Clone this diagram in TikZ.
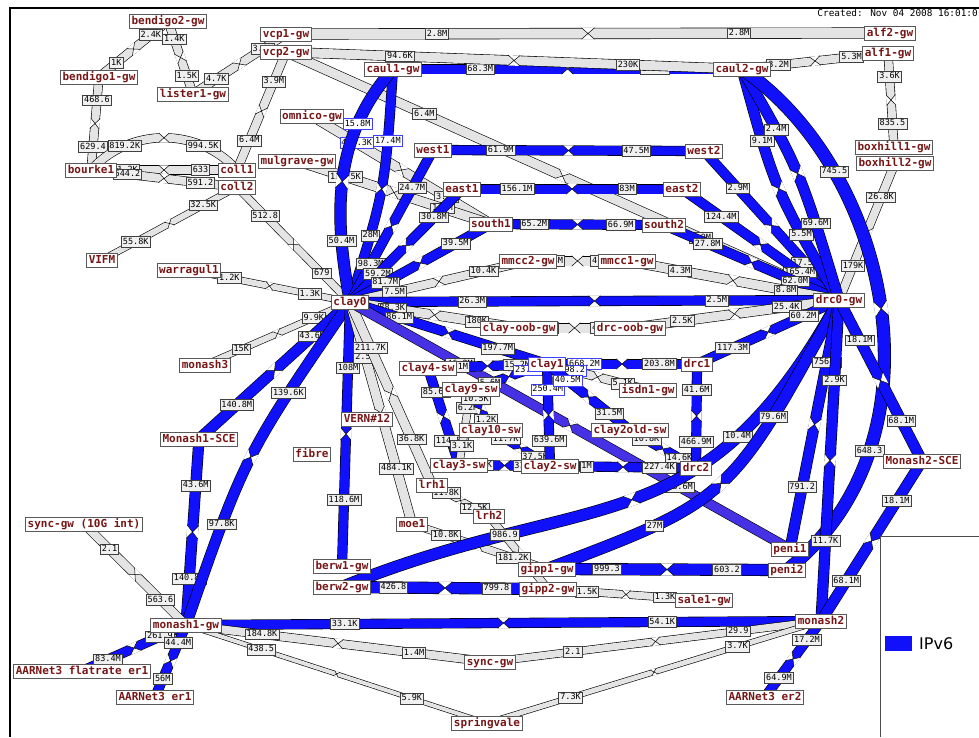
\documentclass[tikz,border=0pt]{standalone}
\usepackage{fontspec}
\newfontfamily\monof{DejaVu Sans Mono}
\newfontfamily\sansf{DejaVu Sans}
\pgfdeclarelayer{bg}
\pgfsetlayers{bg,main}
\definecolor{lg}{RGB}{228,228,228}
\definecolor{lgl}{RGB}{240,240,240}
\definecolor{v6}{RGB}{16,16,250}
\definecolor{v6p}{RGB}{70,50,228}
\definecolor{nodered}{RGB}{118,22,22}
\tikzset{
  nd/.style={fill=white, draw=black!65, line width=0.8pt, inner xsep=2pt, inner ysep=1.5pt,
    text height=8.5pt, text depth=2.5pt, text=nodered, font=\monof\bfseries\fontsize{11}{12}\selectfont},
  bw/.style={fill=lgl, draw=black!75, line width=0.6pt, inner xsep=1.5pt, inner ysep=1.5pt,
    text height=6.3pt, text depth=1.6pt, font=\monof\fontsize{8.5}{9}\selectfont},
  bwc/.style={bw, fill=white, draw=blue!75}
}
% link: #1 colour, #2 width, #3 from, #4 path op, #5 to, #6 style1, #7 label1, #8 style2, #9 label2
\newcommand\wl[9]{%
  \draw[line width=#2+1.2, black] (#3.center) #4 (#5.center);
  \draw[line width=#2, #1] (#3.center) #4 (#5.center)
     node[pos=.5, sloped, inner sep=0pt, outer sep=0pt, minimum width=1.3*#2, minimum height=#2+1.4] (pn) {};
  \fill[white] (pn.north west) -- (pn.center) -- (pn.north east) -- cycle;
  \fill[white] (pn.south west) -- (pn.center) -- (pn.south east) -- cycle;
  \draw[line width=0.5pt] (pn.north west) -- (pn.center) -- (pn.north east)
                          (pn.south west) -- (pn.center) -- (pn.south east);
  \path (#3.center) #4 (#5.center) node[#6, pos=.25] {#7} node[#8, pos=.75] {#9};
}
\begin{document}
\begin{tikzpicture}[x=1pt, y=-1pt]
\useasboundingbox (0,0) rectangle (979,737);
% ---------- nodes ----------
\node[nd] (bendigo2) at (168,21) {bendigo2-gw};
\node[nd] (bendigo1) at (99,77) {bendigo1-gw};
\node[nd] (lister1) at (193,94) {lister1-gw};
\node[nd] (bourke1) at (91,170) {bourke1};
\node[nd] (coll1) at (237,170) {coll1};
\node[nd] (coll2) at (237,187) {coll2};
\node[nd] (VIFM) at (102,260) {VIFM};
\node[nd] (warragul1) at (189,270) {warragul1};
\node[nd] (monash3) at (205,365) {monash3};
\node[nd] (monash1sce) at (199,439) {Monash1-SCE};
\node[nd] (fibre) at (312,454) {fibre};
\node[nd] (syncint) at (84,524) {sync-gw (10G int)};
\node[nd] (monash1) at (186,625) {monash1-gw};
\node[nd] (aarflat) at (82,671) {AARNet3 flatrate er1};
\node[nd] (aarer1) at (155,697) {AARNet3 er1};
\node[nd] (springvale) at (487,723) {springvale};
\node[nd] (syncgw) at (490,662) {sync-gw};
\node[nd] (berw1) at (342,566) {berw1-gw};
\node[nd] (berw2) at (342,587) {berw2-gw};
\node[nd] (moe1) at (412,524) {moe1};
\node[nd] (lrh2) at (489,516) {lrh2};
\node[nd] (lrh1) at (432,485) {lrh1};
\node[nd] (vern) at (367,419) {VERN\#12};
\node[nd] (clay0) at (350,302) {clay0};
\node[nd] (clay4) at (428,368) {clay4-sw};
\node[nd] (clay9) at (471,389) {clay9-sw};
\node[nd] (clay10) at (491,430) {clay10-sw};
\node[nd] (clay3) at (459,465) {clay3-sw};
\node[nd] (clay2) at (550,466) {clay2-sw};
\node[nd] (clay2old) at (630,430) {clay2old-sw};
\node[nd] (isdn1) at (648,390) {isdn1-gw};
\node[nd] (drc1) at (697,364) {drc1};
\node[nd] (drc2) at (696,468) {drc2};
\node[nd] (clayoob) at (519,328) {clay-oob-gw};
\node[nd] (drcoob) at (630,328) {drc-oob-gw};
\node[nd] (mmcc2) at (528,261) {mmcc2-gw};
\node[nd] (mmcc1) at (627,261) {mmcc1-gw};
\node[nd] (drc0) at (839,300) {drc0-gw};
\node[nd] (monash2sce) at (922,461) {Monash2-SCE};
\node[nd] (peni1) at (790,549) {peni1};
\node[nd] (peni2) at (787,570) {peni2};
\node[nd] (monash2) at (821,621) {monash2};
\node[nd] (aarer2) at (765,697) {AARNet3 er2};
\node[nd] (gipp1) at (547,569) {gipp1-gw};
\node[nd] (gipp2) at (548,589) {gipp2-gw};
\node[nd] (sale1) at (704,600) {sale1-gw};
\node[nd] (boxhill1) at (894,147) {boxhill1-gw};
\node[nd] (boxhill2) at (895,163) {boxhill2-gw};
\node[nd] (alf2) at (890,33) {alf2-gw};
\node[nd] (alf1) at (888,53) {alf1-gw};
\node[nd] (caul2) at (742,69) {caul2-gw};
\node[nd] (caul1) at (393,69) {caul1-gw};
\node[nd] (vcp1) at (286,34) {vcp1-gw};
\node[nd] (vcp2) at (286,52) {vcp2-gw};
\node[nd] (omnico) at (312,116) {omnico-gw};
\node[nd] (mulgrave) at (297,161) {mulgrave-gw};
\node[nd] (west1) at (433,150) {west1};
\node[nd] (east1) at (462,189) {east1};
\node[nd] (south1) at (491,224) {south1};
\node[nd] (west2) at (704,151) {west2};
\node[nd] (east2) at (682,189) {east2};
\node[nd] (south2) at (664,225) {south2};
\node[nd, draw=blue!75] (clay1) at (547,364) {clay1};
% ---------- links ----------
\begin{pgfonlayer}{bg}
\fill[white] (0,0) rectangle (979,737);
\wl{lg}{8}{bendigo2}{--}{bendigo1}{bw}{2.4K}{bw}{1K}
\wl{lg}{8}{bendigo2}{--}{lister1}{bw}{1.4K}{bw}{1.5K}
\wl{lg}{8}{bendigo1}{--}{bourke1}{bw}{468.6}{bw}{629.4}
\wl{lg}{8}{bourke1}{.. controls (130,127) and (198,127) ..}{coll1}{bw}{819.2K}{bw}{994.5K}
\wl{lg}{8}{bourke1}{--}{coll1}{bw}{1.2K}{bw}{633}
\wl{lg}{8}{bourke1}{--}{coll2}{bw}{644.2}{bw}{591.2}
\wl{lg}{8}{lister1}{--}{vcp1}{bw}{4.7K}{bw}{3.1K}
\wl{lg}{8}{coll1}{--}{vcp2}{bw}{6.4M}{bw}{3.9M}
\wl{lg}{7}{coll2}{--}{clay0}{bw}{512.8}{bw}{679}
\wl{lg}{6}{coll2}{--}{VIFM}{bw}{32.5K}{bw}{55.8K}
\wl{lg}{10}{vcp1}{--}{alf2}{bw}{2.8M}{bw}{2.8M}
\wl{v6}{9}{caul1}{--}{caul2}{bw}{68.3M}{bw}{27.3M}
\wl{lg}{9}{vcp2}{--}{caul2}{bw}{94.6K}{bw}{230K}
\wl{lg}{8}{caul2}{--}{alf1}{bw}{3.2M}{bw}{5.3M}
\wl{lg}{8}{alf1}{--}{boxhill1}{bw}{3.6K}{bw}{835.5}
\wl{lg}{8}{boxhill2}{--}{drc0}{bw}{26.8K}{bw}{179K}
\wl{lg}{9}{vcp2}{--}{drc0}{bw}{6.4M}{bw}{1.9M}
\wl{lg}{9}{omnico}{--}{south1}{bwc}{439.3K}{bw}{3.6M}
\wl{lg}{9}{mulgrave}{--}{south1}{bw}{133.5K}{bw}{1.7M}
\wl{v6}{9}{clay0}{.. controls (385,190) ..}{caul1}{bw}{28M}{bwc}{17.4M}
\wl{v6}{11}{clay0}{.. controls (335,220) and (330,140) ..}{caul1}{bw}{50.4M}{bwc}{15.8M}
\wl{v6}{9}{clay0}{--}{west1}{bw}{98.3M}{bw}{24.7M}
\wl{v6}{9}{clay0}{--}{east1}{bw}{59.2M}{bw}{30.8M}
\wl{v6}{9}{clay0}{--}{south1}{bw}{81.7M}{bw}{39.5M}
\wl{v6}{9}{west1}{--}{west2}{bw}{61.9M}{bw}{47.5M}
\wl{v6}{9}{east1}{--}{east2}{bw}{156.1M}{bw}{83M}
\wl{v6}{9}{south1}{--}{south2}{bw}{65.2M}{bw}{66.9M}
\wl{v6}{9}{west2}{--}{drc0}{bw}{2.9M}{bw}{17.5M}
\wl{v6}{9}{east2}{--}{drc0}{bw}{124.4M}{bw}{165.4M}
\wl{v6}{9}{south2}{--}{drc0}{bw}{27.8M}{bw}{62.0M}
\wl{v6}{10}{caul2}{.. controls (775,190) ..}{drc0}{bw}{9.1M}{bw}{5.5M}
\wl{v6}{10}{caul2}{.. controls (800,170) ..}{drc0}{bw}{2.4M}{bw}{69.6M}
\wl{v6}{12}{caul2}{.. controls (890,170) and (950,440) ..}{peni2}{bw}{745.5}{bw}{648.3}
\wl{lg}{8}{clay0}{--}{mmcc2}{bw}{7.5M}{bw}{10.4K}
\wl{lg}{9}{mmcc2}{--}{mmcc1}{bw}{1.3M}{bw}{4.2M}
\wl{lg}{9}{mmcc1}{--}{drc0}{bw}{4.3M}{bw}{8.8M}
\wl{v6}{9}{clay0}{--}{drc0}{bw}{26.3M}{bw}{2.5M}
\wl{lg}{9}{clay0}{--}{clayoob}{bw}{88.3K}{bw}{180K}
\wl{lg}{9}{clayoob}{--}{drcoob}{bw}{2.1K}{bw}{4.5K}
\wl{lg}{9}{drcoob}{--}{drc0}{bw}{2.5K}{bw}{25.4K}
\wl{v6}{9}{drc1}{--}{drc0}{bw}{117.3M}{bw}{60.2M}
\wl{lg}{6}{warragul1}{--}{clay0}{bw}{1.2K}{bw}{1.3K}
\wl{lg}{6}{monash3}{--}{clay0}{bw}{15K}{bw}{9.9K}
\wl{v6}{10}{monash1sce}{--}{clay0}{bw}{140.8M}{bw}{43.6M}
\wl{v6}{10}{monash1}{--}{monash1sce}{bw}{140.8M}{bw}{43.6M}
\wl{v6}{10}{monash1}{.. controls (245,455) ..}{clay0}{bw}{97.8K}{bw}{139.6K}
\wl{v6}{9}{clay0}{--}{berw1}{bw}{108M}{bw}{118.6M}
\wl{lg}{9}{clay0}{--}{moe1}{bw}{2.5K}{bw}{484.1K}
\wl{lg}{9}{clay0}{--}{lrh1}{bw}{211.7K}{bw}{36.8K}
\wl{v6}{9}{clay0}{--}{clay1}{bw}{86.1M}{bw}{197.7M}
\wl{v6p}{9}{clay0}{--}{peni1}{bw}{46.2M}{bw}{18.6M}
\wl{v6}{9}{clay1}{--}{clay4}{bw}{15.2M}{bw}{2.1M}
\wl{v6}{8}{clay1}{--}{clay9}{bwc}{23.1M}{bw}{5.6M}
\wl{v6}{9}{clay4}{--}{clay3}{bw}{85.6M}{bw}{114.5M}
\wl{lg}{7}{clay9}{--}{clay3}{bw}{6.2K}{bw}{3.1K}
\wl{v6}{8}{clay9}{--}{clay10}{bw}{10.5K}{bw}{1.2K}
\wl{v6}{8}{clay10}{--}{clay2}{bw}{11.7K}{bw}{37.5K}
\wl{v6}{9}{clay3}{--}{clay2}{bw}{2.2K}{bw}{31.5K}
\wl{v6}{9}{clay1}{--}{clay2}{bwc}{250.4M}{bw}{639.6M}
\wl{v6}{9}{clay1}{--}{drc1}{bwc}{668.2M}{bw}{203.8M}
\wl{lg}{8}{clay1}{--}{isdn1}{bwc}{598.2}{bw}{5.1K}
\wl{v6}{9}{clay1}{--}{clay2old}{bwc}{40.5M}{bw}{31.5M}
\wl{v6}{9}{clay2old}{--}{drc2}{bw}{10.8K}{bw}{14.6K}
\wl{v6}{9}{clay2}{--}{drc2}{bw}{1M}{bw}{227.4K}
\wl{v6}{9}{drc1}{--}{drc2}{bw}{41.6M}{bw}{466.9M}
\wl{lg}{6}{lrh1}{--}{lrh2}{bw}{11.8K}{bw}{12.5K}
\wl{lg}{7}{lrh2}{--}{gipp2}{bw}{9.9K}{bw}{1.4K}
\wl{lg}{7}{moe1}{--}{gipp1}{bw}{10.8K}{bw}{181.2K}
\wl{v6}{11}{berw2}{.. controls (590,486) and (701,551) ..}{drc0}{bw}{986.9}{bw}{10.4M}
\wl{v6}{11}{gipp1}{.. controls (730,500) ..}{drc0}{bw}{27M}{bw}{79.6M}
\wl{v6}{10}{drc0}{--}{peni1}{bw}{756.3}{bw}{791.2}
\wl{v6}{10}{drc0}{--}{monash2}{bw}{2.9K}{bw}{11.7K}
\wl{v6}{10}{drc0}{--}{monash2sce}{bw}{18.1M}{bw}{68.1M}
\wl{v6}{10}{monash2sce}{--}{monash2}{bw}{18.1M}{bw}{68.1M}
\wl{v6}{11}{gipp1}{--}{peni2}{bw}{999.3}{bw}{603.2}
\wl{v6}{11}{berw2}{--}{gipp2}{bw}{426.8}{bw}{799.8}
\wl{lg}{7}{gipp2}{--}{sale1}{bw}{1.5K}{bw}{1.3K}
\wl{v6}{9}{monash1}{--}{monash2}{bw}{33.1K}{bw}{54.1K}
\wl{lg}{8}{monash1}{--}{syncgw}{bw}{184.8K}{bw}{1.4M}
\wl{lg}{4}{monash1}{--}{springvale}{bw}{438.5}{bw}{5.9K}
\wl{lg}{7}{syncgw}{--}{monash2}{bw}{2.1}{bw}{29.9}
\wl{lg}{5}{springvale}{--}{monash2}{bw}{7.3K}{bw}{3.7K}
\wl{v6}{9}{monash2}{--}{aarer2}{bw}{17.2M}{bw}{64.9M}
\wl{lg}{8}{syncint}{--}{monash1}{bw}{2.1}{bw}{563.6}
\wl{v6}{9}{monash1}{--}{aarflat}{bw}{261.9}{bw}{83.4M}
\wl{v6}{9}{monash1}{--}{aarer1}{bw}{44.4M}{bw}{56M}
\end{pgfonlayer}
% ---------- frame, legend, stamp ----------
\draw[line width=2.5pt] (10,737) -- (10,8) -- (979,8);
\draw[line width=0.8pt, black!70] (880,737) -- (880,536) -- (979,536);
\fill[v6] (885,636) rectangle (912,651);
\node[anchor=west, inner sep=0pt, font=\sansf\fontsize{16}{18}\selectfont] (legtxt) at (919,643.5) {IPv6};
\node[anchor=east, inner sep=0pt, font=\monof\fontsize{9.4}{11}\selectfont] (stamp) at (978,13) {Created: Nov 04 2008 16:01:0};
\end{tikzpicture}
\end{document}
